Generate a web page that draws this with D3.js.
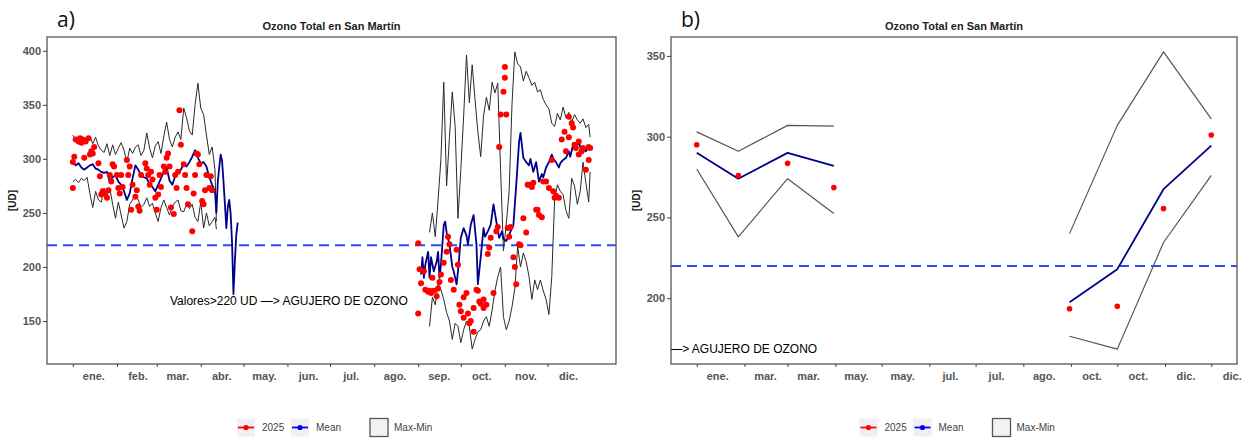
<!DOCTYPE html>
<html><head><meta charset="utf-8">
<script src="https://cdn.jsdelivr.net/npm/d3@7"></script>
<style>
body{margin:0;background:#fff;}
svg{display:block;font-family:"Liberation Sans",Arial,sans-serif;}
</style>
</head><body>
<svg id="chart" width="1245" height="442"></svg>
<script>
// ---------------- DATA ----------------
const YEAR = 2025;
const chartTitle = "Ozono Total en San Martín";
const yAxisTitle = "[UD]";
const panelLabels = ["a)", "b)"];
const threshold = 220;
const annotationText = "Valores>220 UD —> AGUJERO DE OZONO";
const annotationValue = 169;
const annotationDateA = "2025-06-02";
const annotationDateB = "2025-01-02";
const legendLabels = ["2025", "Mean", "Max-Min"];
const monthLabelsA = ["ene.","feb.","mar.","abr.","may.","jun.","jul.","ago.","sep.","oct.","nov.","dic."];
const monthLabelsB = ["ene.","mar.","mar.","may.","may.","jul.","jul.","ago.","oct.","oct.","dic.","dic."];
const yTicksA = [150,200,250,300,350,400];
const yTicksB = [200,250,300,350];

// Panel a: daily series, day of year (0 = 1 Jan)
// January - April
const maxDaysA1 = [0,2,4,6,8,10,12,14,16,18,20,22,24,26,28,30,32,34,36,38,40,42,44,46,48,50,52,54,56,58,60,62,64,66,68,70,72,74,76,78,80,82,84,86,88,90,92,94,96,98,100,101];
const maxValsA1 = [322,318,320,316,320,317,321,314,320,312,308,306,314,303,313,304,310,315,308,297,310,305,311,313,303,308,324,310,301,312,316,305,321,334,318,311,320,325,318,347,338,326,322,350,370,347,341,322,304,311,290,242];
const minValsA1 = [279,281,278,282,280,283,268,255,270,262,260,273,266,273,258,245,260,248,236,242,258,262,267,262,255,258,264,256,259,250,242,255,262,255,248,256,260,262,252,251,258,254,258,246,242,260,236,250,238,242,246,235];
const meanDaysA1 = [0,2,4,6,8,10,12,14,16,18,20,22,24,26,28,30,32,34,36,38,40,42,44,46,48,50,52,54,56,58,60,62,64,66,68,70,72,74,76,78,80,82,84,86,88,90,92,94,96,98,100,101,102,103,104,105,106,107,108,109,110,111,112,113,114,115,116];
const meanValsA1 = [297,294,296,292,290,292,294,295,291,290,288,287,288,279,283,285,279,276,270,262,268,282,294,290,285,283,282,277,274,270,276,282,288,292,280,276,284,288,290,295,293,297,302,308,301,296,297,293,283,276,270,250,279,292,304,298,279,258,236,255,262,250,223,175,205,230,241];
// September - December
const maxDaysA2 = [251,253,255,257,259,261,263,265,267,269,271,273,275,277,279,281,283,285,287,289,291,293,295,297,299,301,303,305,307,309,311,313,315,317,319,321,323,325,327,329,331,333,335,337,339,341,343,345,347,349,351,353,355,357,359,361,363,364];
const maxValsA2 = [232,250,228,262,300,371,275,320,362,330,245,290,340,396,352,387,355,325,302,340,357,345,371,361,370,290,215,240,270,350,399,388,385,372,381,375,368,371,362,364,355,350,346,333,330,342,336,348,338,343,334,341,336,333,337,329,332,320];
const minValsA2 = [145,172,165,185,179,170,158,150,133,148,145,130,142,150,145,124,133,140,142,150,154,145,160,178,191,200,154,142,150,163,180,219,200,213,205,191,170,188,179,188,178,170,156,191,262,276,270,267,252,245,282,275,258,270,297,278,260,288];
const meanDaysA2 = [245,246,247,248,250,251,252,254,256,257,258,259,261,262,263,265,267,268,270,271,273,275,277,278,280,282,284,285,287,289,290,292,294,296,298,300,302,303,305,307,309,310,312,314,315,317,319,321,322,324,326,328,330,331,333,335,337,338,340,342,343,345,347,349,350,352,354,356,358,359,361,363,364];
const meanValsA2 = [193,209,190,202,214,190,209,196,205,214,190,202,239,242,232,221,200,196,184,196,227,236,229,221,239,248,221,184,209,236,228,233,239,258,242,227,233,226,224,230,236,239,276,316,324,301,297,294,300,288,297,279,286,283,292,297,304,300,297,292,296,299,301,307,302,313,310,316,306,310,307,311,309];
// 2025 observations
const obsDaysA1 = [0,0,1,2,4,5,6,7,8,9,11,12,13,14,15,18,19,20,21,22,24,25,26,27,28,29,31,32,33,34,35,38,39,40,41,42,44,45,46,47,48,51,52,53,54,55,56,58,59,60,61,62,64,65,66,67,68,69,71,72,73,74,75,76,78,79,80,81,84,85,86,87,88,89,91,92,93,94,96,97,98];
const obsValsA1 = [273,297,302,318,316,319,315,318,301,316,319,304,307,305,311,296,284,267,270,268,264,271,285,279,295,293,285,273,268,285,274,299,285,293,253,276,265,271,256,252,285,296,291,285,276,288,281,264,253,267,285,274,293,288,301,305,293,255,249,285,273,288,345,313,295,285,273,258,233,268,285,305,304,295,261,258,271,285,273,284,271];
const obsDaysA2 = [243,244,245,243,247,248,250,251,252,253,254,256,257,258,259,261,263,264,265,266,268,270,271,272,273,275,275,277,278,279,280,282,282,284,285,286,287,289,289,291,292,293,294,296,298,299,300,301,303,304,304,305,306,307,308,310,311,312,314,315,317,319,320,321,323,324,326,327,328,330,331,333,335,337,338,339,340,342,344,346,347,349,349,351,352,353,354,356,356,358,359,361,363,363,364];
const obsValsA2 = [222,198,185,157,196,179,177,178,176,190,178,173,180,186,193,204,214,228,221,188,179,216,202,165,159,172,153,176,157,148,150,140,162,179,178,168,166,170,162,165,212,218,227,176,233,237,311,341,362,375,385,341,236,228,237,209,200,184,221,220,245,232,276,276,274,278,253,253,248,246,279,279,273,299,270,264,266,264,318,325,307,320,339,333,329,313,310,316,304,307,310,290,299,311,310];

// Panel b: monthly values (two groups of months)
const monthDatesB1 = ["2025-01-01","2025-01-28","2025-03-01","2025-03-31"];
const monthDatesB2 = ["2025-08-31","2025-10-01","2025-10-31","2025-12-01"];
const maxB1 = [303,291,307,306.5];
const meanB1 = [290,274,290,282];
const obsB1 = [295,276,283.5,268.5];
const minB1 = [280,238,274,252.5];
const maxB2 = [240,307,352.5,311];
const meanB2 = [197.5,218,267.5,294.5];
const obsB2 = [193.5,195,255.5,301];
const minB2 = [176.5,168.5,234.5,276];

// ---------------- DRAWING ----------------
const svg = d3.select("#chart");
const parse = d3.timeParse("%Y-%m-%d");
const jan1 = new Date(YEAR, 0, 1);
const doy = d => d3.timeDay.offset(jan1, d);
const toPts = (dates, vals) => d3.zip(dates, vals).map(([d, v]) => ({date: d, value: v}));
const expand = ([a, b]) => { const s = (b - a) * 0.05; return [a - s, b + s]; };
const expandT = ([a, b]) => { const s = (b - a) * 0.05; return [new Date(+a - s), new Date(+b + s)]; };

const panelA = {
  id: "a", label: panelLabels[0], left: 47, right: 616, top: 37, bottom: 364,
  xExtent: [jan1, new Date(YEAR, 11, 31)],
  ticksX: d3.timeMonth.range(jan1, new Date(YEAR + 1, 0, 1)),
  monthLabels: monthLabelsA, yTicks: yTicksA,
  rangeLines: [toPts(maxDaysA1.map(doy), maxValsA1), toPts(maxDaysA1.map(doy), minValsA1),
               toPts(maxDaysA2.map(doy), maxValsA2), toPts(maxDaysA2.map(doy), minValsA2)],
  meanLines: [toPts(meanDaysA1.map(doy), meanValsA1), toPts(meanDaysA2.map(doy), meanValsA2)],
  points: toPts(obsDaysA1.concat(obsDaysA2).map(doy), obsValsA1.concat(obsValsA2)),
  annotationDate: parse(annotationDateA),
  rangeColor: "#2a2a2a", rangeWidth: 1, pointR: 3
};
const panelB = {
  id: "b", label: panelLabels[1], left: 671, right: 1237, top: 37, bottom: 364,
  xExtent: [jan1, new Date(YEAR, 11, 1)],
  ticksX: d3.timeMonth.range(jan1, new Date(YEAR, 11, 2)),
  monthLabels: monthLabelsB, yTicks: yTicksB,
  rangeLines: [toPts(monthDatesB1.map(parse), maxB1), toPts(monthDatesB1.map(parse), minB1),
               toPts(monthDatesB2.map(parse), maxB2), toPts(monthDatesB2.map(parse), minB2)],
  meanLines: [toPts(monthDatesB1.map(parse), meanB1), toPts(monthDatesB2.map(parse), meanB2)],
  points: toPts(monthDatesB1.concat(monthDatesB2).map(parse), obsB1.concat(obsB2)),
  annotationDate: parse(annotationDateB),
  rangeColor: "#555", rangeWidth: 1.2, pointR: 2.8
};

function drawPanel(P) {
  const g = svg.append("g");
  const allVals = P.rangeLines.flat().concat(P.meanLines.flat(), P.points).map(d => d.value);
  const x = d3.scaleTime().domain(expandT(P.xExtent)).range([P.left, P.right]);
  const y = d3.scaleLinear().domain(expand(d3.extent(allVals))).range([P.bottom, P.top]);
  const clipId = "clip-" + P.id;
  g.append("clipPath").attr("id", clipId).append("rect")
    .attr("x", P.left).attr("y", P.top).attr("width", P.right - P.left).attr("height", P.bottom - P.top);
  const plot = g.append("g").attr("clip-path", `url(#${clipId})`);

  // threshold
  plot.append("line").attr("x1", P.left).attr("x2", P.right)
    .attr("y1", y(threshold)).attr("y2", y(threshold))
    .attr("stroke", "#2a4bff").attr("stroke-width", 2).attr("stroke-dasharray", "10,6");

  const line = d3.line().x(d => x(d.date)).y(d => y(d.value));
  plot.selectAll("path.range").data(P.rangeLines).join("path").attr("class", "range")
    .attr("d", line).attr("fill", "none").attr("stroke", P.rangeColor).attr("stroke-width", P.rangeWidth)
    .attr("stroke-linejoin", "round");
  plot.selectAll("path.mean").data(P.meanLines).join("path").attr("class", "mean")
    .attr("d", line).attr("fill", "none").attr("stroke", "#00008b").attr("stroke-width", 1.8)
    .attr("stroke-linejoin", "round");
  plot.selectAll("circle").data(P.points).join("circle")
    .attr("cx", d => x(d.date)).attr("cy", d => y(d.value)).attr("r", P.pointR).attr("fill", "#ff0000");

  plot.append("text").attr("x", x(P.annotationDate)).attr("y", y(annotationValue)).attr("dy", "0.35em")
    .attr("text-anchor", "middle").attr("font-size", 12).attr("fill", "#000").text(annotationText);

  // frame
  g.append("rect").attr("x", P.left).attr("y", P.top).attr("width", P.right - P.left).attr("height", P.bottom - P.top)
    .attr("fill", "none").attr("stroke", "#555").attr("stroke-width", 1.3);

  // y axis
  const ya = g.append("g").attr("transform", `translate(${P.left},0)`)
    .call(d3.axisLeft(y).tickValues(P.yTicks).tickSize(4).tickPadding(2));
  ya.select(".domain").remove();
  ya.selectAll("line").attr("stroke", "#444");
  ya.selectAll("text").attr("font-size", 11).attr("font-weight", "bold").attr("fill", "#555")
    .attr("font-family", "Liberation Sans, Arial, sans-serif");

  // x axis ticks and labels
  const xa = g.append("g").attr("transform", `translate(0,${P.bottom})`)
    .call(d3.axisBottom(x).tickValues(P.ticksX).tickSize(3).tickFormat(""));
  xa.select(".domain").remove();
  xa.selectAll("line").attr("stroke", "#444");
  g.selectAll("text.mlab").data(P.ticksX).join("text").attr("class", "mlab")
    .attr("x", d => x(d) + 21).attr("y", P.bottom + 16)
    .attr("text-anchor", "middle").attr("font-size", 11).attr("font-weight", "bold").attr("fill", "#555")
    .text((d, i) => P.monthLabels[i]);

  const cx = (P.left + P.right) / 2;
  // title
  g.append("text").attr("x", cx).attr("y", 30).attr("text-anchor", "middle")
    .attr("font-size", 11).attr("font-weight", "bold").attr("fill", "#222").text(chartTitle);
  // panel label
  g.append("text").attr("x", P.left + 10).attr("y", 27).attr("font-family", "Open Sans, Noto Sans, sans-serif")
    .attr("font-size", 21).attr("fill", "#111").text(P.label);
  // y title
  g.append("text").attr("transform", `translate(${P.left - 31},${(P.top + P.bottom) / 2}) rotate(-90)`)
    .attr("text-anchor", "middle").attr("font-size", 10).attr("font-weight", "bold").attr("fill", "#111").text(yAxisTitle);

  // legend
  const lg = g.append("g").attr("transform", `translate(${cx},427.5)`);
  const keyW = 18;
  const keys = [{x: -94.5, color: "#ff0000"}, {x: -40.5, color: "#0000ff"}];
  keys.forEach((k, i) => {
    lg.append("rect").attr("x", k.x).attr("y", -9).attr("width", keyW).attr("height", keyW).attr("fill", "#f0f0f0");
    lg.append("line").attr("x1", k.x + 1).attr("x2", k.x + keyW - 1).attr("y1", 0).attr("y2", 0)
      .attr("stroke", k.color).attr("stroke-width", 1.8);
    lg.append("circle").attr("cx", k.x + keyW / 2).attr("cy", 0).attr("r", 2.6).attr("fill", k.color);
    lg.append("text").attr("x", k.x + keyW + 7).attr("dy", "0.35em").attr("font-size", 10).attr("fill", "#444")
      .text(legendLabels[i]);
  });
  lg.append("rect").attr("x", 38.5).attr("y", -9).attr("width", keyW).attr("height", keyW)
    .attr("fill", "#f2f2f2").attr("stroke", "#555").attr("stroke-width", 1.3);
  lg.append("text").attr("x", 38.5 + keyW + 6).attr("dy", "0.35em").attr("font-size", 10).attr("fill", "#444")
    .text(legendLabels[2]);
}

drawPanel(panelA);
drawPanel(panelB);
</script>
</body></html>
